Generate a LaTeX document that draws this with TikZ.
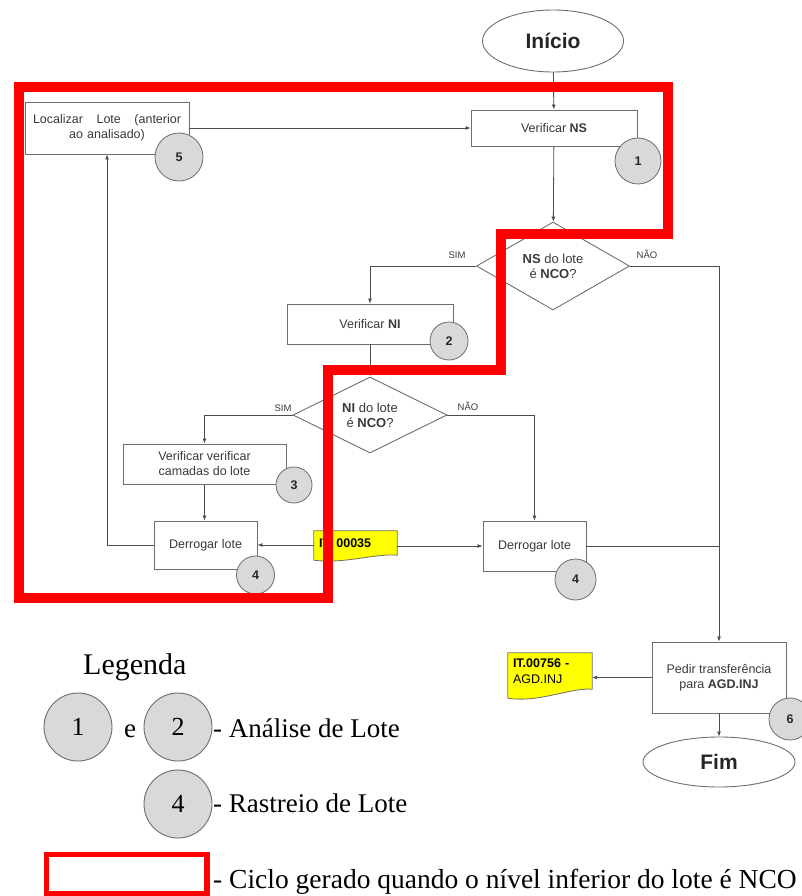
\documentclass[tikz,border=0pt]{standalone}
\usepackage{fontspec}
\setmainfont{Liberation Sans}
\newfontfamily\legfont{Liberation Serif}
\usetikzlibrary{arrows.meta,shapes.geometric,calc}

\definecolor{linegray}{HTML}{4D4D4D}
\definecolor{boxgray}{HTML}{6E6E6E}
\definecolor{badgefill}{HTML}{D9D9D9}
\definecolor{txtgray}{HTML}{3A3A3A}
\definecolor{docyellow}{HTML}{FFFF00}

% stretchable word space for a fully spread line
\newcommand\spreadsp{\hskip 0pt plus 1filll\relax}

\tikzset{
  proc/.style={rectangle, draw=boxgray, line width=0.9pt, fill=white, text=txtgray,
    font=\fontsize{12.5}{15}\selectfont, inner sep=4pt},
  term/.style={ellipse, draw=boxgray, line width=0.9pt, fill=white, text=black!85,
    font=\fontsize{21}{24}\selectfont\bfseries, inner sep=0pt},
  decision/.style={diamond, aspect=1.75, draw=boxgray, line width=0.9pt, fill=white,
    text=txtgray, align=center, inner sep=0pt, font=\fontsize{13}{15}\selectfont},
  badge/.style={circle, draw=gray!85!black, line width=0.8pt, fill=badgefill,
    inner sep=0pt, minimum size=#1, font=\fontsize{12.5}{14}\selectfont\bfseries, text=black!85},
  badge/.default=40pt,
  docnote/.style={rectangle, inner sep=5pt, align=left, text=black,
    font=\fontsize{12.5}{16}\selectfont},
  docshape/.style={draw=boxgray, line width=0.8pt, fill=docyellow},
  flow/.style={draw=linegray, line width=0.8pt, -{Latex[length=5pt,width=4pt]}},
  link/.style={draw=linegray, line width=0.8pt},
  lbl/.style={font=\fontsize{9.5}{11}\selectfont, text=txtgray, inner sep=0pt},
  loopline/.style={draw=red, line width=10.5pt, line join=miter},
  legtext/.style={font=\legfont\fontsize{27}{29}\selectfont, inner sep=0pt, text=black},
  legbadge/.style={circle, draw=gray!85!black, line width=0.9pt, fill=badgefill,
    inner sep=0pt, minimum size=68pt, font=\legfont\fontsize{26}{28}\selectfont},
}

\begin{document}
\begin{tikzpicture}[x=1pt,y=-1pt]
\useasboundingbox (0,0) rectangle (802,896);

% terminals
\node[term, minimum width=141pt, minimum height=62pt] (start) at (553,41) {Início};
\node[term, minimum width=152pt, minimum height=50pt] (fim) at (719,762) {Fim};

% process boxes
\node[proc, minimum width=164pt, minimum height=52pt, text width=148pt, align=center] (loc) at (107,128)
  {Localizar\spreadsp Lote\spreadsp (anterior\\ao analisado)};
\node[proc, minimum width=166pt, minimum height=36pt] (vns) at (554,128) {Verificar \textbf{NS}};
\node[proc, minimum width=166pt, minimum height=40pt] (vni) at (370,324) {Verificar \textbf{NI}};
\node[proc, minimum width=163pt, minimum height=40pt, align=center] (cam) at (204.5,464)
  {Verificar verificar\\camadas do lote};
\node[proc, minimum width=103pt, minimum height=48pt] (dl) at (205.5,545) {Derrogar lote};
\node[proc, minimum width=103pt, minimum height=50pt] (dr) at (534.5,546) {Derrogar lote};
\node[proc, minimum width=134pt, minimum height=71pt, align=center] (ped) at (719,677.5)
  {Pedir transferência\\para \textbf{AGD.INJ}};

% decisions
\node[decision, minimum width=153pt, minimum height=88pt] (dns) at (553,266)
  {\textbf{NS} do lote\\é \textbf{NCO}?};
\node[decision, minimum width=154pt, minimum height=76pt] (dni) at (370,415)
  {\textbf{NI} do lote\\é \textbf{NCO}?};

% document notes
\node[docnote, minimum width=83pt, minimum height=24pt, text width=73pt] (d1) at (355.5,543) {};
\path[docshape] (d1.north west) -- (d1.north east) -- (d1.south east)
  .. controls +(-22,-2) and +(31,4) .. ($(d1.south west)+(0,5)$) -- cycle;
\node[docnote, text width=73pt, font=\fontsize{12.5}{16}\selectfont\bfseries] at (d1) {IT. 00035};

\node[docnote, minimum width=84pt, minimum height=37pt, text width=74pt] (d2) at (550,671.5) {};
\path[docshape] (d2.north west) -- (d2.north east) -- ($(d2.south east)+(0,-1)$)
  .. controls +(-20,-2) and +(30,5) .. ($(d2.south west)+(0,8)$) -- cycle;
\node[docnote, text width=74pt, font=\fontsize{12.5}{16}\selectfont] at (d2)
  {\textbf{IT.00756 -}\\AGD.INJ};

% connectors
\draw[flow] (start) -- (vns);
\draw[flow] (loc.east |- vns.west) -- (vns.west);
\draw[flow] (vns) -- (dns);
\draw[flow] (dns.west) -| (vni.north);
\draw[flow] (vni) -- (dni);
\draw[flow] (dni.west) -| (cam.north);
\draw[flow] (cam.south) -- (cam.south |- dl.north);
\draw[flow] (dni.east) -| (dr.north);
\draw[flow] (dns.east) -| (ped.north);
\draw[flow] (dl.west) -| (loc.south);
\draw[flow] (d1.west |- dl.east) -- (dl.east);
\draw[flow] (d1.east |- dr.west) -- (dr.west);
\coordinate (jn) at (ped.north |- dr.east);
\draw[link] (dr.east) -- (jn);
\draw[flow] (ped.west) -- (d2.east |- ped.west);
\draw[flow] (ped) -- (fim);

% branch labels
\node[lbl] (sns) at (457,255) {SIM};
\node[lbl] (nns) at (647,254) {NÃO};
\node[lbl] (sni) at (283,408) {SIM};
\node[lbl] (nni) at (468,406) {NÃO};

% step badges
\node[badge=46pt] (b1) at (638,161) {1};
\node[badge=48pt] (b5) at (179,157) {5};
\node[badge=38pt] (b2) at (449,341) {2};
\node[badge=36pt] (b3) at (294,485) {3};
\node[badge=38pt] (b4l) at (255.5,575) {4};
\node[badge=41pt] (b4r) at (575.5,579.5) {4};
\node[badge=42pt] (b6) at (790,719) {6};

% loop outline
\draw[loopline] (19,87) -- (668,87) -- (668,234) -- (501,234) -- (501,370)
  -- (328,370) -- (328,598) -- (19,598) -- cycle;

% legend
\node[legtext, font=\legfont\fontsize{30}{32}\selectfont, anchor=base west] (leg) at (83,674) {Legenda};
\node[legbadge] (l1) at (78,727) {1};
\node[legtext, anchor=base] (le) at (130,737) {e};
\node[legbadge] (l2) at (178,727) {2};
\node[legtext, anchor=base west] (t1) at (213,737) {- Análise de Lote};
\node[legbadge] (l4) at (178,804) {4};
\node[legtext, anchor=base west] (t2) at (213,812) {- Rastreio de Lote};
\node[draw=red, line width=5.5pt, minimum width=160.5pt, minimum height=39.5pt, inner sep=0pt]
  (lkey) at (126.75,874.25) {};
\node[legtext, font=\legfont\fontsize{27.5}{29}\selectfont, anchor=base west] (t3) at (213,888)
  {- Ciclo gerado quando o nível inferior do lote é NCO};
\end{tikzpicture}
\end{document}
